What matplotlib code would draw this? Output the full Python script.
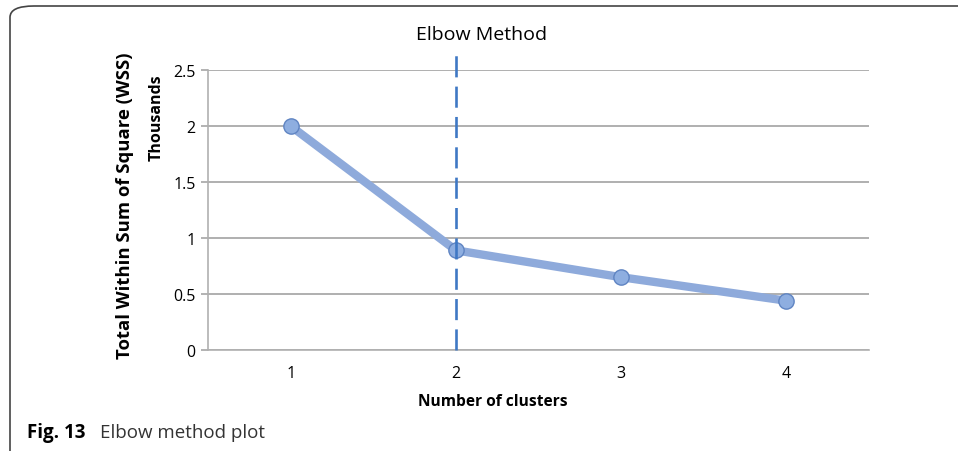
import matplotlib.pyplot as plt
from matplotlib.patches import FancyBboxPatch

# elbow curve values (thousands)
clusters = [1, 2, 3, 4]
wss = [2.0, 0.89, 0.65, 0.44]
y_ticks = [0, 0.5, 1, 1.5, 2, 2.5]
y_labels = ["0", "0.5", "1", "1.5", "2", "2.5"]
elbow_k = 2

plt.rcParams['font.family'] = ['Open Sans', 'DejaVu Sans']

fig = plt.figure(figsize=(9.58, 4.52), dpi=100)

# rounded frame around the figure (open to the right and bottom)
frame = FancyBboxPatch((10 / 958, -0.1), 1.2, 1 - 7 / 452 + 0.1,
                       boxstyle="round,pad=0,rounding_size=0.025",
                       transform=fig.transFigure, fill=False,
                       edgecolor="#444444", linewidth=1.2)
fig.patches.append(frame)

ax = fig.add_axes([208 / 958, 1 - 351 / 452, 661 / 958, 280 / 452])

ax.plot(clusters, wss, color="#8eaadb", linewidth=6, solid_capstyle="round", zorder=3)
ax.plot(clusters, wss, linestyle="none", marker="o", markersize=11,
        markerfacecolor="#8eaee0", markeredgecolor="#5f84c2", markeredgewidth=1, zorder=4)

# elbow marker line
ax.plot([elbow_k, elbow_k], [0, 2.69], color="#3f78c4", linewidth=1.9,
        dashes=(8, 3.5), clip_on=False, zorder=5)
fig.text(482 / 958, 1 - 35 / 452, "Elbow Method", ha="center", va="center", fontsize=14)

ax.set_xlim(0.5, 4.5)
ax.set_ylim(0, 2.5)
ax.set_xticks(clusters)
ax.set_xticklabels([str(c) for c in clusters], fontsize=11.5)
ax.set_yticks(y_ticks)
ax.set_yticklabels(y_labels, fontsize=11.5)
ax.tick_params(axis="x", length=0, pad=11)
ax.tick_params(axis="y", length=5, color="#a6a6a6", width=1.2, pad=4)

ax.grid(axis="y", color="#a9a9a9", linewidth=1.3)
ax.set_axisbelow(True)
for s in ["top", "right"]:
    ax.spines[s].set_visible(False)
ax.spines["left"].set_color("#b0b0b0")
ax.spines["bottom"].set_color("#b0b0b0")
ax.spines["left"].set_linewidth(1.2)
ax.spines["bottom"].set_linewidth(1.2)

fig.text(493 / 958, 1 - 402 / 452, "Number of clusters", ha="center", va="center",
         fontsize=11.2, fontweight="bold")
fig.text(125 / 958, 1 - 206 / 452, "Total Within Sum of Square (WSS)", rotation=90,
         ha="center", va="center", fontsize=13.3, fontweight="bold")
fig.text(157 / 958, 1 - 118 / 452, "Thousands", rotation=90,
         ha="center", va="center", fontsize=11.5, fontweight="bold")

# caption
fig.text(27 / 958, 1 - 433 / 452, "Fig. 13", fontsize=13.5, fontweight="bold", va="center")
fig.text(100 / 958, 1 - 433 / 452, "Elbow method plot", fontsize=13.5, va="center", color="#333333")

fig.savefig("out.png", dpi=100)
